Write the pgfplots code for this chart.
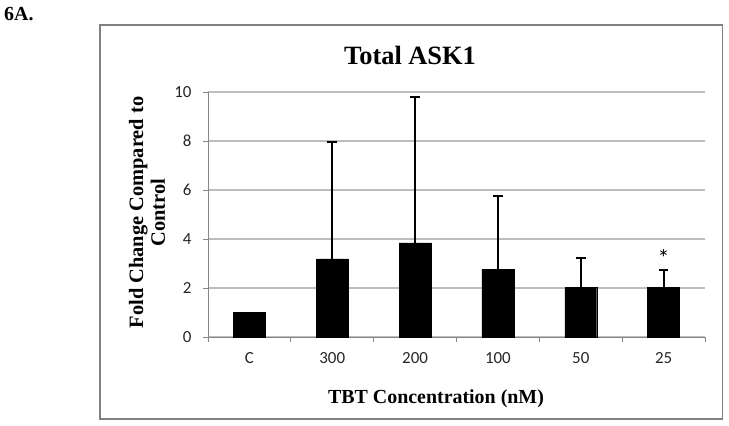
\documentclass[border=0pt]{standalone}
\usepackage{pgfplots}
\pgfplotsset{compat=1.18}
\usepackage{fontspec}
\setmainfont{Liberation Serif}
\newfontfamily\calibri{Carlito}
\definecolor{gridc}{HTML}{BEBEBE}
\definecolor{axisc}{HTML}{868686}
\definecolor{borderc}{HTML}{808080}
\begin{document}
\begin{tikzpicture}
\path (0,0) rectangle (729bp,-426bp);
\draw[borderc, line width=1.2bp] (100bp,-25bp) rectangle (722.5bp,-419bp);
\node[anchor=base west, font=\bfseries\fontsize{20}{20}\selectfont, inner sep=0] at (4bp,-20bp) {6A.};
\begin{axis}[
  at={(208bp,-337bp)}, anchor=south west,
  scale only axis, width=497bp, height=245bp,
  xmin=-0.5, xmax=5.5, ymin=0, ymax=10,
  axis x line*=bottom, axis y line*=left,
  axis line style={axisc, line width=1bp},
  xtick={-0.5,0.5,...,5.5}, xticklabels={},
  extra x ticks={0,1,2,3,4,5},
  extra x tick labels={C,300,200,100,50,25},
  extra x tick style={major tick length=0pt},
  ytick={0,2,...,10},
  ymajorgrids, grid style={gridc, line width=1.2bp},
  tick align=outside, major tick length=5bp,
  tick style={axisc, line width=1bp},
  /pgf/number format/assume math mode=true,
  ticklabel style={font=\calibri\fontsize{17}{17}\selectfont, text=black!85},
  yticklabel style={xshift=-8bp},
  xticklabel style={yshift=-12bp},
]
\addplot[ybar, bar width=0.385, fill=black, draw=black]
  coordinates {(0,1.0)};
\addplot[ybar, bar width=0.385, fill=black, draw=black,
  error bars/.cd, y dir=plus, y explicit,
  error bar style={line width=2bp, black},
  error mark options={rotate=90, mark size=4.8bp, line width=2.2bp, black}]
  coordinates {
   (1,3.19) +- (0,4.78)
   (2,3.84) +- (0,5.97)
   (3,2.75) +- (0,3.01)
   (4,2.02) +- (0,1.22)
   (5,2.02) +- (0,0.71)
  };
\node[font=\calibri\fontsize{24}{24}\selectfont, anchor=south, inner sep=0bp] at (axis cs:5,2.85) {*};
\end{axis}
\node[anchor=base, font=\bfseries\fontsize{26.5}{26.5}\selectfont, inner sep=0] at (410bp,-64bp) {Total ASK1};
\node[anchor=base, font=\bfseries\fontsize{20}{20}\selectfont, inner sep=0] at (436bp,-403bp) {TBT Concentration (nM)};
\node[rotate=90, align=center, font=\bfseries\fontsize{20.5}{22}\selectfont, inner sep=0] at (147bp,-212.5bp) {Fold Change Compared to\\Control};
\end{tikzpicture}
\end{document}
